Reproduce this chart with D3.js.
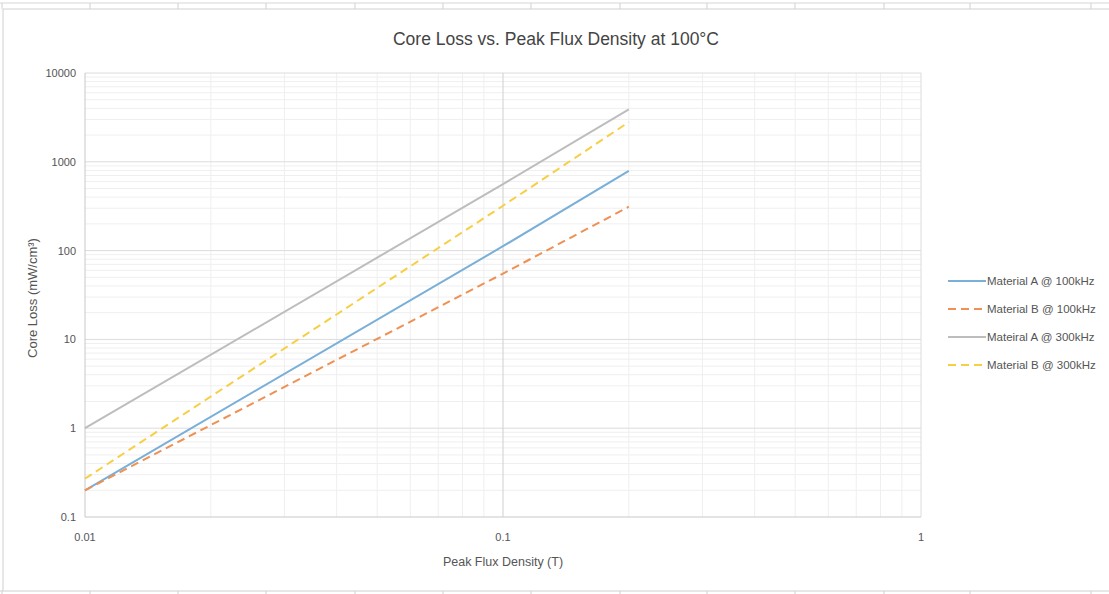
<!DOCTYPE html>
<html>
<head>
<meta charset="utf-8">
<script src="https://cdn.jsdelivr.net/npm/d3@7"></script>
<style>
  body { margin: 0; background: #fff; }
  text { font-family: "Liberation Sans", Arial, sans-serif; }
</style>
</head>
<body>
<div id="chart"></div>
<script>
// data (flux density in T, core loss in mW/cm3)
const fluxDensity = [0.01, 0.1, 0.2];
const matA100 = [0.2, 112, 790];
const matB100 = [0.2, 55, 312];
const matA300 = [1.0, 560, 3900];
const matB300 = [0.27, 320, 2800];

const seriesNames = ["Material A @ 100kHz", "Material B @ 100kHz", "Mateiral A @ 300kHz", "Material B @ 300kHz"];
const seriesColors = ["#7aafd8", "#ee9153", "#bdbdbd", "#f6cf45"];
const seriesDash = [null, "8,5", null, "8,5"];
const seriesValues = [matA100, matB100, matA300, matB300];

const xTicks = [0.01, 0.1, 1];
const yTicks = [0.1, 1, 10, 100, 1000, 10000];

let width = 1109;
let height = 594;

const svg = d3.select("#chart")
  .append("svg")
  .attr("width", width)
  .attr("height", height);

// spreadsheet frame around the chart
const sheetCols = [2, 90, 178, 266, 355, 443, 531, 620, 707, 795, 884, 970, 1091];
svg.append("line").attr("x1", 0).attr("x2", width).attr("y1", 3).attr("y2", 3).style("stroke", "#d6d6d6");
svg.append("line").attr("x1", 3).attr("x2", width).attr("y1", 9).attr("y2", 9).style("stroke", "#d0d0d0");
svg.append("line").attr("x1", 0).attr("x2", width).attr("y1", 591).attr("y2", 591).style("stroke", "#d0d0d0");
svg.append("line").attr("x1", 3).attr("x2", 3).attr("y1", 9).attr("y2", 591).style("stroke", "#d0d0d0");
svg.selectAll(".sheetTop")
  .data(sheetCols)
  .enter()
  .append("line")
  .attr("x1", d => d).attr("x2", d => d)
  .attr("y1", 3).attr("y2", 9)
  .style("stroke", "#d0d0d0");
svg.selectAll(".sheetBottom")
  .data(sheetCols)
  .enter()
  .append("line")
  .attr("x1", d => d).attr("x2", d => d)
  .attr("y1", 591).attr("y2", 594)
  .style("stroke", "#d0d0d0");

// plot area
const plotLeft = 85, plotRight = 921, plotTop = 73, plotBottom = 517;

const x = d3.scaleLog().domain([0.01, 1]).range([plotLeft, plotRight]);
const y = d3.scaleLog().domain([0.1, 10000]).range([plotBottom, plotTop]);

// minor grid
const xMinor = [];
const yMinor = [];
[0.01, 0.1].forEach(function (dec) {
  for (let i = 2; i <= 9; i++) xMinor.push(dec * i);
});
[0.1, 1, 10, 100, 1000].forEach(function (dec) {
  for (let i = 2; i <= 9; i++) yMinor.push(dec * i);
});

svg.selectAll(".xMinor")
  .data(xMinor)
  .enter()
  .append("line")
  .attr("x1", d => x(d)).attr("x2", d => x(d))
  .attr("y1", plotTop).attr("y2", plotBottom)
  .style("stroke", "#efefef");

svg.selectAll(".yMinor")
  .data(yMinor)
  .enter()
  .append("line")
  .attr("x1", plotLeft).attr("x2", plotRight)
  .attr("y1", d => y(d)).attr("y2", d => y(d))
  .style("stroke", "#efefef");

// major grid
svg.selectAll(".yMajor")
  .data(yTicks)
  .enter()
  .append("line")
  .attr("x1", plotLeft).attr("x2", plotRight)
  .attr("y1", d => y(d)).attr("y2", d => y(d))
  .style("stroke", d => d === 0.1 ? "#c8c8c8" : "#dcdcdc");

svg.selectAll(".xMajor")
  .data(xTicks)
  .enter()
  .append("line")
  .attr("x1", d => x(d)).attr("x2", d => x(d))
  .attr("y1", plotTop).attr("y2", plotBottom)
  .style("stroke", d => d === 0.01 ? "#c8c8c8" : (d === 1 ? "#dcdcdc" : "#cfcfcf"));

// tick labels
svg.selectAll(".yLabel")
  .data(yTicks)
  .enter()
  .append("text")
  .attr("x", 76)
  .attr("y", d => y(d) + 4)
  .attr("text-anchor", "end")
  .style("font-size", "11px")
  .style("fill", "#555")
  .text(d => d3.format("~g")(d));

svg.selectAll(".xLabel")
  .data(xTicks)
  .enter()
  .append("text")
  .attr("x", d => x(d))
  .attr("y", 541)
  .attr("text-anchor", "middle")
  .style("font-size", "11px")
  .style("fill", "#555")
  .text(d => d3.format("~g")(d));

// titles
svg.append("text")
  .attr("x", 556)
  .attr("y", 45)
  .attr("text-anchor", "middle")
  .style("font-size", "17.5px")
  .style("fill", "#444")
  .text("Core Loss vs. Peak Flux Density at 100°C");

svg.append("text")
  .attr("x", 503)
  .attr("y", 566)
  .attr("text-anchor", "middle")
  .style("font-size", "12.5px")
  .style("fill", "#555")
  .text("Peak Flux Density (T)");

svg.append("text")
  .attr("transform", "translate(37," + 298 + ") rotate(-90)")
  .attr("text-anchor", "middle")
  .style("font-size", "13px")
  .style("fill", "#555")
  .text("Core Loss (mW/cm³)");

// lines
const line = d3.line()
  .x(d => x(d[0]))
  .y(d => y(d[1]));

seriesValues.forEach(function (vals, i) {
  svg.append("path")
    .datum(fluxDensity.map((f, j) => [f, vals[j]]))
    .attr("d", line)
    .style("fill", "none")
    .style("stroke", seriesColors[i])
    .style("stroke-width", 2)
    .style("stroke-dasharray", seriesDash[i]);
});

// legend
const legend = svg.selectAll(".legend")
  .data(seriesNames)
  .enter()
  .append("g")
  .attr("transform", (d, i) => "translate(948," + (281 + i * 28) + ")");

legend.append("line")
  .attr("x1", 0).attr("x2", 38)
  .attr("y1", 0).attr("y2", 0)
  .style("stroke", (d, i) => seriesColors[i])
  .style("stroke-width", 2)
  .style("stroke-dasharray", (d, i) => seriesDash[i]);

legend.append("text")
  .attr("x", 39)
  .attr("y", 4)
  .style("font-size", "11.5px")
  .style("fill", "#555")
  .text(d => d);
</script>
</body>
</html>
